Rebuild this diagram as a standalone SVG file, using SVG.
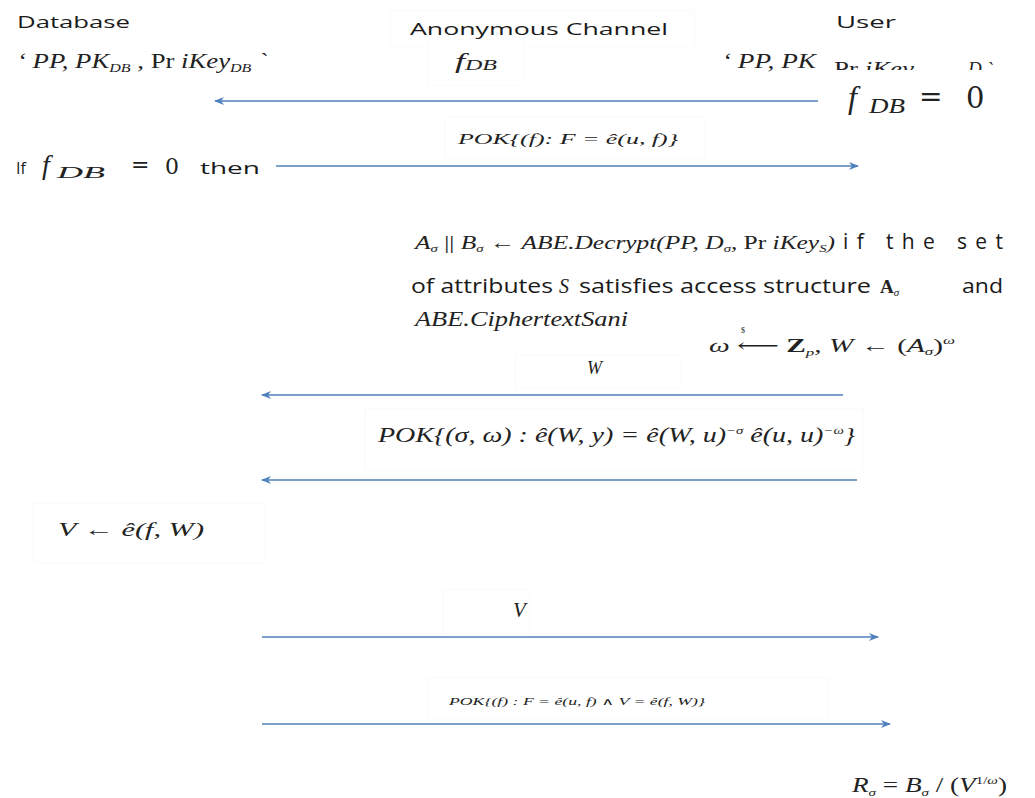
<svg xmlns="http://www.w3.org/2000/svg" width="1035" height="798" viewBox="0 0 1035 798">
<style>
.s{font-family:"Open Sans","DejaVu Sans",sans-serif;fill:#1a1a1a}
.m{font-family:"Liberation Serif","DejaVu Serif",serif;font-style:italic;fill:#222}
.r{font-style:normal}
.b{font-weight:bold;font-style:normal}
.box{fill:#fff;stroke:#fafafa;stroke-width:1}
.c{stroke:#4f81bd;stroke-width:1.6;fill:none;marker-end:url(#ah)}
</style>
<defs>
<marker id="ah" viewBox="0 0 10 8" refX="9" refY="4" markerWidth="10" markerHeight="8" markerUnits="userSpaceOnUse" orient="auto">
<path d="M0,0 L10,4 L0,8 L3,4 z" fill="#4f81bd"/>
</marker>
<clipPath id="uclip"><path d="M0,0 H1035 V70 H818 V798 H0 z"/></clipPath>
<clipPath id="aclip"><path d="M0,0 H1035 V321 H630 V798 H0 z"/></clipPath>
</defs>
<rect width="1035" height="798" fill="#fff"/>

<g id="boxes">
<rect class="box" x="390" y="10" width="305" height="36"/>
<rect class="box" x="428" y="28" width="95" height="57"/>
<rect class="box" x="445" y="117" width="260" height="41"/>
<rect class="box" x="515" y="355" width="165" height="33"/>
<rect class="box" x="365" y="409" width="498" height="61"/>
<rect class="box" x="33" y="503" width="232" height="60"/>
<rect class="box" x="443" y="590" width="87" height="42"/>
<rect class="box" x="428" y="678" width="400" height="40"/>
</g>

<g id="connectors">
<line class="c" x1="843" y1="101" x2="215" y2="101"/>
<line class="c" x1="276" y1="166" x2="858" y2="166"/>
<line class="c" x1="843" y1="395" x2="262" y2="395"/>
<line class="c" x1="857" y1="480" x2="262" y2="480"/>
<line class="c" x1="262" y1="637" x2="878" y2="637"/>
<line class="c" x1="262" y1="724" x2="890" y2="724"/>
</g>

<g id="database">
<text class="s" x="17" y="28" font-size="16" textLength="113" lengthAdjust="spacingAndGlyphs">Database</text>
<text class="m" x="17" y="68" font-size="20" textLength="250" lengthAdjust="spacingAndGlyphs">‘ PP, PK<tspan font-size="12" dy="4">DB</tspan><tspan dy="-4"> , </tspan><tspan class="r">Pr</tspan> iKey<tspan font-size="12" dy="4">DB</tspan><tspan dy="-4"> `</tspan></text>
</g>

<g id="channel">
<text class="s" x="410" y="35" font-size="16" textLength="258" lengthAdjust="spacingAndGlyphs">Anonymous Channel</text>
<text class="m" x="455" y="68" font-size="21" textLength="42" lengthAdjust="spacingAndGlyphs">f<tspan font-size="14" dy="2">DB</tspan></text>
</g>

<g id="user">
<text class="s" x="836" y="28" font-size="16" textLength="60" lengthAdjust="spacingAndGlyphs">User</text>
<g clip-path="url(#uclip)">
<text class="m" x="722" y="68" font-size="20" textLength="94" lengthAdjust="spacingAndGlyphs">‘ PP, PK</text>
<text class="m" x="834" y="75" font-size="19" textLength="80" lengthAdjust="spacingAndGlyphs"><tspan class="r">Pr</tspan> iKey</text>
<text class="m" x="968" y="75" font-size="19">D `</text>
</g>
<rect x="818" y="70" width="200" height="45" fill="#fff"/>
<text class="m" x="848" y="108" font-size="32">f</text>
<text class="m" x="869" y="113" font-size="20" textLength="36" lengthAdjust="spacingAndGlyphs">DB</text>
<text x="919" y="106" font-size="28" font-family="DejaVu Serif" fill="#222">=</text>
<text x="966" y="108" font-size="29" font-family="DejaVu Serif" fill="#222">0</text>
</g>

<g id="if-check">
<text class="s" x="16" y="174" font-size="16">If</text>
<text class="m" x="42" y="174" font-size="28">f</text>
<text class="m" x="57" y="178" font-size="16" textLength="48" lengthAdjust="spacingAndGlyphs">DB</text>
<text x="131" y="172" font-size="22" font-family="DejaVu Serif" fill="#222">=</text>
<text x="165" y="174" font-size="22" font-family="DejaVu Serif" fill="#222">0</text>
<text class="s" x="200" y="174" font-size="17" textLength="60" lengthAdjust="spacingAndGlyphs">then</text>
</g>

<g id="pok1">
<text class="m" x="458" y="144" font-size="14" textLength="220" lengthAdjust="spacingAndGlyphs">POK{(f): F = ê(u, f)}</text>
</g>

<g id="decrypt">
<text class="m" x="415" y="249" font-size="19" textLength="420" lengthAdjust="spacingAndGlyphs">A<tspan font-size="11" dy="3">σ</tspan><tspan dy="-3" class="r"> || </tspan>B<tspan font-size="11" dy="3">σ</tspan><tspan dy="-3" class="r"> ← </tspan>ABE.Decrypt(PP, D<tspan font-size="11" dy="3">σ</tspan><tspan dy="-3">, </tspan><tspan class="r">Pr</tspan> iKey<tspan font-size="11" dy="3">S</tspan><tspan dy="-3">)</tspan></text>
<text class="s" x="843" y="249" font-size="21" textLength="160" lengthAdjust="spacing">if the set</text>
<text class="s" x="411" y="293" font-size="20" textLength="142" lengthAdjust="spacingAndGlyphs">of attributes</text>
<text class="m" x="559" y="293" font-size="20">S</text>
<text class="s" x="579" y="293" font-size="20" textLength="292" lengthAdjust="spacingAndGlyphs">satisfies access structure</text>
<text class="m" x="880" y="293" font-size="19"><tspan class="b">A</tspan><tspan font-size="11" dy="3">σ</tspan></text>
<text class="s" x="962" y="293" font-size="20" textLength="41" lengthAdjust="spacingAndGlyphs">and</text>
<g clip-path="url(#aclip)">
<text class="m" x="415" y="326" font-size="22" textLength="213" lengthAdjust="spacingAndGlyphs">ABE.CiphertextSani</text>
</g>
</g>

<g id="choose-omega">
<text class="m" x="709" y="352" font-size="19" textLength="246" lengthAdjust="spacingAndGlyphs">ω<tspan class="r"> ⟵ </tspan><tspan class="b">Z</tspan><tspan font-size="11" dy="4">p</tspan><tspan dy="-4">, W </tspan><tspan class="r">← (</tspan>A<tspan font-size="11" dy="3">σ</tspan><tspan dy="-3" class="r">)</tspan><tspan font-size="11" dy="-8">ω</tspan></text>
<text x="741" y="333" font-size="8" font-family="Liberation Serif, serif" fill="#222">$</text>
</g>

<g id="msg-W">
<text class="m" x="587" y="374" font-size="18">W</text>
</g>

<g id="pok2">
<text class="m" x="378" y="442" font-size="21" textLength="477" lengthAdjust="spacingAndGlyphs">POK{(σ, ω) : ê(W, y) = ê(W, u)<tspan font-size="11" dy="-8">−σ</tspan><tspan dy="8"> ê(u, u)</tspan><tspan font-size="11" dy="-8">−ω</tspan><tspan dy="8">}</tspan></text>
</g>

<g id="compute-V">
<text class="m" x="58" y="536" font-size="19" textLength="146" lengthAdjust="spacingAndGlyphs">V <tspan class="r">←</tspan> ê(f, W)</text>
</g>

<g id="msg-V">
<text class="m" x="513" y="617" font-size="21">V</text>
</g>

<g id="pok3">
<text class="m" x="449" y="705" font-size="10" textLength="256" lengthAdjust="spacingAndGlyphs">POK{(f) : F = ê(u, f) ∧ V = ê(f, W)}</text>
</g>

<g id="result">
<text class="m" x="852" y="792" font-size="20" textLength="155" lengthAdjust="spacingAndGlyphs">R<tspan font-size="11" dy="4">σ</tspan><tspan dy="-4" class="r"> = </tspan>B<tspan font-size="11" dy="4">σ</tspan><tspan dy="-4" class="r"> / (</tspan>V<tspan font-size="11" dy="-8" class="r">1/</tspan><tspan font-size="11">ω</tspan><tspan dy="8" class="r">)</tspan></text>
</g>
</svg>
